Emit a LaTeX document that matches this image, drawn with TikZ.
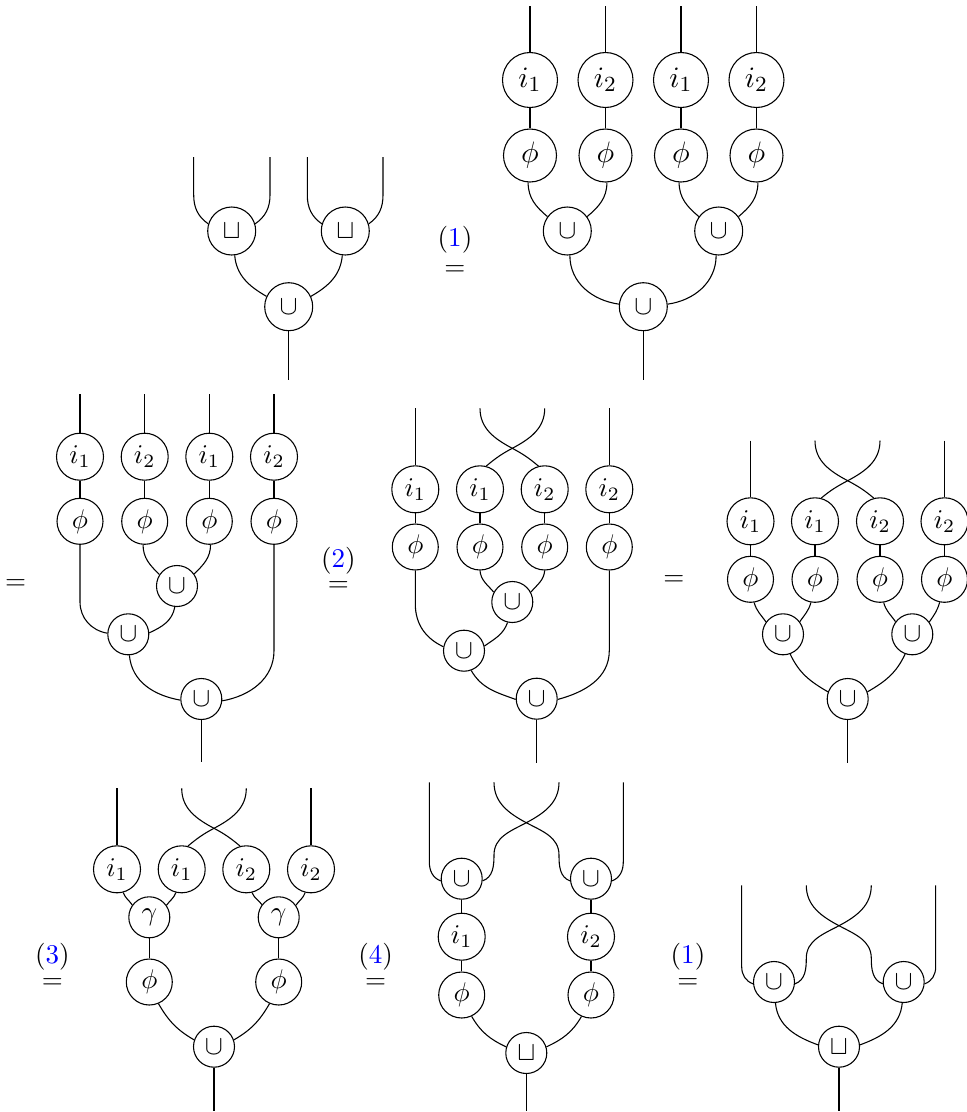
\documentclass[tikz,border=0pt]{standalone}
\usepackage{amsmath}
\usepackage{amssymb}
\usepackage{tikz}
\usepackage{color}

\begin{document}
\begin{tikzpicture}[x=0.37pt,y=-0.37pt,
	mor/.style={circle,draw,inner sep=0pt},
	bigi/.style={mor,minimum size=20.35pt,font=\fontsize{11}{13}\selectfont},
	bigphi/.style={mor,minimum size=19.61pt,font=\fontsize{11}{13}\selectfont},
	bigm/.style={mor,minimum size=17.76pt},
	smi/.style={mor,minimum size=17.39pt},
	smphi/.style={mor,minimum size=17.02pt},
	smm/.style={mor,minimum size=15.17pt},
	rel/.style={align=center,inner sep=0pt}]
	\useasboundingbox (0,0) rectangle (967,1112);

	\node[bigm] (as1) at (231.7,231) {$\sqcup$}; \node[bigm] (as2) at (345.3,231) {$\sqcup$}; \node[bigm] (ac) at (288.7,306.7) {$\cup$};
	\coordinate (at1) at (193.7,157); \coordinate (at2) at (270,157); \coordinate (at3) at (307.3,157); \coordinate (at4) at (383,157); \coordinate (ab) at (288.7,380);
	\draw (at1) -- ++(0,38) to[out=-90,in=145] (as1.163);
	\draw (at2) -- ++(0,38) to[out=-90,in=35] (as1.17);
	\draw (at3) -- ++(0,38) to[out=-90,in=145] (as2.163);
	\draw (at4) -- ++(0,38) to[out=-90,in=35] (as2.17);
	\draw (as1.-83) to[out=-85,in=150] (ac.155);
	\draw (as2.-97) to[out=-95,in=30] (ac.25);
	\draw (ac) -- (ab);
	\node[rel] (ar) at (455,251) {(\textcolor{blue}{1})\\[-1.5pt]$=$};

	\node[bigi] (bi1) at (530,80) {$i_1$}; \node[bigi] (bi2) at (605.5,80) {$i_2$}; \node[bigi] (bi3) at (681,80) {$i_1$}; \node[bigi] (bi4) at (756.5,80) {$i_2$};
	\node[bigphi] (bp1) at (530,155.5) {$\phi$}; \node[bigphi] (bp2) at (605.5,155.5) {$\phi$}; \node[bigphi] (bp3) at (681,155.5) {$\phi$}; \node[bigphi] (bp4) at (756.5,155.5) {$\phi$};
	\node[bigm] (bc1) at (567.3,231) {$\cup$}; \node[bigm] (bc2) at (718.7,231) {$\cup$}; \node[bigm] (bc3) at (643.3,306.7) {$\cup$};
	\coordinate (bt1) at (530,6); \coordinate (bt2) at (605.5,6); \coordinate (bt3) at (681,6); \coordinate (bt4) at (756.5,6); \coordinate (bb) at (643.3,380);
	\draw (bt1) -- (bi1); \draw (bt2) -- (bi2); \draw (bt3) -- (bi3); \draw (bt4) -- (bi4);
	\draw (bi1) -- (bp1); \draw (bi2) -- (bp2); \draw (bi3) -- (bp3); \draw (bi4) -- (bp4);
	\draw (bp1.-94) to[out=-90,in=140] (bc1.144);
	\draw (bp2.-87) to[out=-90,in=40] (bc1.36);
	\draw (bp3.-94) to[out=-90,in=140] (bc2.144);
	\draw (bp4.-87) to[out=-90,in=40] (bc2.36);
	\draw (bc1.-84) to[out=-90,in=172] (bc3.174);
	\draw (bc2.-96) to[out=-90,in=8] (bc3.6);
	\draw (bc3) -- (bb);

	\node[smi] (ci1) at (80,456.7) {$i_1$}; \node[smi] (ci2) at (144.7,456.7) {$i_2$}; \node[smi] (ci3) at (209.3,456.7) {$i_1$}; \node[smi] (ci4) at (274,456.7) {$i_2$};
	\node[smphi] (cp1) at (80,521.3) {$\phi$}; \node[smphi] (cp2) at (144.7,521.3) {$\phi$}; \node[smphi] (cp3) at (209.3,521.3) {$\phi$}; \node[smphi] (cp4) at (274,521.3) {$\phi$};
	\node[smm] (cc1) at (177,586) {$\cup$}; \node[smm] (cc2) at (128.3,634.3) {$\cup$}; \node[smm] (cc3) at (201.3,699) {$\cup$};
	\coordinate (ct1) at (80,394); \coordinate (ct2) at (144.7,394); \coordinate (ct3) at (209.3,394); \coordinate (ct4) at (274,394); \coordinate (cb) at (201.3,761.7);
	\draw (ct1) -- (ci1); \draw (ct2) -- (ci2); \draw (ct3) -- (ci3); \draw (ct4) -- (ci4);
	\draw (ci1) -- (cp1); \draw (ci2) -- (cp2); \draw (ci3) -- (cp3); \draw (ci4) -- (cp4);
	\draw (cp2.-94) to[out=-90,in=135] (cc1.147);
	\draw (cp3.-87) to[out=-90,in=45] (cc1.35);
	\draw (cp1.south) -- ++(0,57) to[out=-90,in=170] (cc2.177);
	\draw (cc1.-96) to[out=-100,in=25] (cc2.4);
	\draw (cc2.-87) to[out=-85,in=170] (cc3.183);
	\draw (cp4.south) -- ++(0,105.7) to[out=-90,in=10] (cc3.-5);
	\draw (cc3) -- (cb);
	\node[rel] (cr) at (15.7,584.3) {$=$};

	\node[smi] (di1) at (415.3,489.3) {$i_1$}; \node[smi] (di2) at (480,489.3) {$i_1$}; \node[smi] (di3) at (544.7,489.3) {$i_2$}; \node[smi] (di4) at (609.3,489.3) {$i_2$};
	\node[smphi] (dp1) at (415.3,547) {$\phi$}; \node[smphi] (dp2) at (480,547) {$\phi$}; \node[smphi] (dp3) at (544.7,547) {$\phi$}; \node[smphi] (dp4) at (609.3,547) {$\phi$};
	\node[smm] (dc1) at (512.3,602) {$\cup$}; \node[smm] (dc2) at (464,650.7) {$\cup$}; \node[smm] (dc3) at (536.7,698.7) {$\cup$};
	\coordinate (dt1) at (415.3,408.3); \coordinate (dt2) at (480,408.3); \coordinate (dt3) at (544.7,408.3); \coordinate (dt4) at (609.3,408.3); \coordinate (db) at (536.7,763.3); \coordinate (dx) at (512.3,448.3);
	\draw (dt1) -- (di1); \draw (dt4) -- (di4);
	\draw (dt2) to[out=-90,in=152] (dx) to[out=-28,in=140] (di3.105);
	\draw (dt3) to[out=-90,in=28] (dx) to[out=208,in=40] (di2.75);
	\draw (di1) -- (dp1); \draw (di2) -- (dp2); \draw (di3) -- (dp3); \draw (di4) -- (dp4);
	\draw (dp2.south) to[out=-85,in=130] (dc1.152);
	\draw (dp3.south) to[out=-95,in=50] (dc1.28);
	\draw (dp1.south) -- ++(0,33.3) to[out=-90,in=155] (dc2.169);
	\draw (dc1.-103) to[out=-110,in=35] (dc2.13);
	\draw (dc2.-70) to[out=-60,in=160] (dc3.182);
	\draw (dp4.south) -- ++(0,80) to[out=-90,in=15] (dc3.-2);
	\draw (dc3) -- (db);
	\node[rel] (dr) at (338.3,569.5) {(\textcolor{blue}{2})\\[-3pt]$=$};

	\node[smi] (ei1) at (750.5,521.3) {$i_1$}; \node[smi] (ei2) at (815,521.3) {$i_1$}; \node[smi] (ei3) at (880,521.3) {$i_2$}; \node[smi] (ei4) at (944.5,521.3) {$i_2$};
	\node[smphi] (ep1) at (750.5,579.3) {$\phi$}; \node[smphi] (ep2) at (815,579.3) {$\phi$}; \node[smphi] (ep3) at (880,579.3) {$\phi$}; \node[smphi] (ep4) at (944.5,579.3) {$\phi$};
	\node[smm] (ec1) at (783,634.3) {$\cup$}; \node[smm] (ec2) at (912.3,634.3) {$\cup$}; \node[smm] (ec3) at (847.7,699) {$\cup$};
	\coordinate (et1) at (750.5,440.7); \coordinate (et2) at (815,440.7); \coordinate (et3) at (880,440.7); \coordinate (et4) at (944.5,440.7); \coordinate (eb) at (847.7,763.3); \coordinate (ex) at (847.7,480.7);
	\draw (et1) -- (ei1); \draw (et4) -- (ei4);
	\draw (et2) to[out=-90,in=152] (ex) to[out=-28,in=140] (ei3.105);
	\draw (et3) to[out=-90,in=28] (ex) to[out=208,in=40] (ei2.75);
	\draw (ei1) -- (ep1); \draw (ei2) -- (ep2); \draw (ei3) -- (ep3); \draw (ei4) -- (ep4);
	\draw (ep1.-81) to[out=-75,in=125] (ec1.144);
	\draw (ep2.-100) to[out=-105,in=55] (ec1.37);
	\draw (ep3.-81) to[out=-75,in=125] (ec2.143);
	\draw (ep4.-102) to[out=-105,in=55] (ec2.36);
	\draw (ec1.-70) to[out=-65,in=150] (ec3.160);
	\draw (ec2.-110) to[out=-115,in=30] (ec3.20);
	\draw (ec3) -- (eb);
	\node[rel] (er) at (674,581) {$=$};

	\node[smi] (fi1) at (117,869.3) {$i_1$}; \node[smi] (fi2) at (181.7,869.3) {$i_1$}; \node[smi] (fi3) at (246.3,869.3) {$i_2$}; \node[smi] (fi4) at (311,869.3) {$i_2$};
	\node[smm] (fg1) at (149.3,917.3) {$\gamma$}; \node[smm] (fg2) at (278.7,917.3) {$\gamma$};
	\node[smphi] (fp1) at (149.3,982) {$\phi$}; \node[smphi] (fp2) at (278.7,982) {$\phi$};
	\node[smm] (fc) at (214,1046.7) {$\cup$};
	\coordinate (ft1) at (117,788.3); \coordinate (ft2) at (181.7,788.3); \coordinate (ft3) at (246.3,788.3); \coordinate (ft4) at (311,788.3); \coordinate (fb) at (214,1111); \coordinate (fx) at (214,828.3);
	\draw (ft1) -- (fi1); \draw (ft4) -- (fi4);
	\draw (ft2) to[out=-90,in=152] (fx) to[out=-28,in=140] (fi3.105);
	\draw (ft3) to[out=-90,in=28] (fx) to[out=208,in=40] (fi2.75);
	\draw (fi1.-75) to[out=-70,in=125] (fg1.144);
	\draw (fi2.-104) to[out=-110,in=55] (fg1.35);
	\draw (fi3.-76) to[out=-70,in=125] (fg2.143);
	\draw (fi4.-104) to[out=-110,in=55] (fg2.35);
	\draw (fg1) -- (fp1); \draw (fg2) -- (fp2);
	\draw (fp1.-67) to[out=-60,in=150] (fc.161);
	\draw (fp2.-113) to[out=-120,in=30] (fc.19);
	\draw (fc) -- (fb);
	\node[rel] (fr) at (52.3,966) {(\textcolor{blue}{3})\\[-3pt]$=$};

	\node[smm] (gc1) at (461.7,878.7) {$\cup$}; \node[smm] (gc2) at (591,878.7) {$\cup$};
	\node[smi] (gi1) at (461.7,936.7) {$i_1$}; \node[smi] (gi2) at (591,936.7) {$i_2$};
	\node[smphi] (gp1) at (461.7,995) {$\phi$}; \node[smphi] (gp2) at (591,995) {$\phi$};
	\node[smm] (gs) at (526.3,1053) {$\sqcup$};
	\coordinate (gt1) at (429.3,782.3); \coordinate (gt2) at (494,782.3); \coordinate (gt3) at (559,782.3); \coordinate (gt4) at (623.3,782.3); \coordinate (gb) at (526.3,1111); \coordinate (gx) at (526.3,822.7);
	\coordinate (gl) at (494,855); \coordinate (gr) at (559,855);
	\draw (gt1) -- ++(0,79.4) to[out=-90,in=160] (gc1.186);
	\draw (gt4) -- ++(0,79.4) to[out=-90,in=20] (gc2.-6);
	\draw (gt2) to[out=-90,in=152] (gx) to[out=-28,in=90] (gr) to[out=-90,in=160] (gc2.186);
	\draw (gt3) to[out=-90,in=28] (gx) to[out=208,in=90] (gl) to[out=-90,in=20] (gc1.-6);
	\draw (gc1) -- (gi1); \draw (gc2) -- (gi2);
	\draw (gi1) -- (gp1); \draw (gi2) -- (gp2);
	\draw (gp1.-65) to[out=-60,in=155] (gs.163);
	\draw (gp2.-114) to[out=-120,in=25] (gs.17);
	\draw (gs) -- (gb);
	\node[rel] (gr1) at (375.7,966) {(\textcolor{blue}{4})\\[-3pt]$=$};

	\node[smm] (hc1) at (774,982) {$\cup$}; \node[smm] (hc2) at (903.7,982) {$\cup$}; \node[smm] (hs) at (839,1046.7) {$\sqcup$};
	\coordinate (ht1) at (741.7,885.3); \coordinate (ht2) at (806.3,885.3); \coordinate (ht3) at (871.3,885.3); \coordinate (ht4) at (935.7,885.3); \coordinate (hb) at (839,1111.3); \coordinate (hx) at (839,925.7);
	\coordinate (hl) at (806.3,958.3); \coordinate (hr) at (871.3,958.3);
	\draw (ht1) -- ++(0,81.4) to[out=-90,in=160] (hc1.185);
	\draw (ht4) -- ++(0,81.4) to[out=-90,in=20] (hc2.-5);
	\draw (ht2) to[out=-90,in=152] (hx) to[out=-28,in=90] (hr) to[out=-90,in=160] (hc2.185);
	\draw (ht3) to[out=-90,in=28] (hx) to[out=208,in=90] (hl) to[out=-90,in=20] (hc1.-5);
	\draw (hc1.-86) to[out=-85,in=160] (hs.175);
	\draw (hc2.-94) to[out=-95,in=20] (hs.5);
	\draw (hs) -- (hb);
	\node[rel] (hr1) at (688,966) {(\textcolor{blue}{1})\\[-3pt]$=$};
\end{tikzpicture}
\end{document}
